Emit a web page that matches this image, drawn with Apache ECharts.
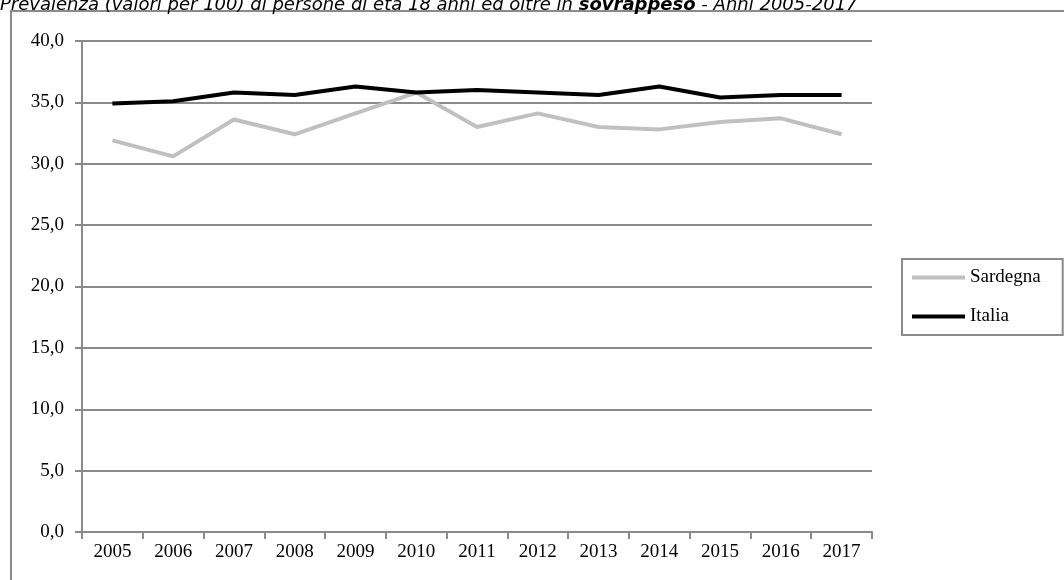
<!DOCTYPE html>
<html>
<head>
<meta charset="utf-8">
<script src="https://cdn.jsdelivr.net/npm/echarts@6/dist/echarts.min.js"></script>
<style>
html,body{margin:0;padding:0;background:#fff;}
#chart{width:1064px;height:580px;}
</style>
</head>
<body>
<div id="chart"></div>
<script>
var years = ['2005','2006','2007','2008','2009','2010','2011','2012','2013','2014','2015','2016','2017'];
var sardegna = [31.9, 30.6, 33.6, 32.4, 34.1, 35.8, 33.0, 34.1, 33.0, 32.8, 33.4, 33.7, 32.4];
var italia = [34.9, 35.1, 35.8, 35.6, 36.3, 35.8, 36.0, 35.8, 35.6, 36.3, 35.4, 35.6, 35.6];
var yTicks = [0, 5, 10, 15, 20, 25, 30, 35, 40];

var chart = echarts.init(document.getElementById('chart'));
var serif = '"Liberation Serif", "Times New Roman", serif';
var sans = '"DejaVu Sans", Verdana, sans-serif';
chart.setOption({
  animation: false,
  backgroundColor: '#fff',
  graphic: [
    {
      type: 'rect',
      shape: { x: 11, y: 11, width: 1200, height: 700 },
      style: { fill: 'none', stroke: '#8a8a8a', lineWidth: 2 },
      z: 0
    },
    {
      type: 'text',
      x: 0,
      y: 14,
      style: {
        text: '{n|Prevalenza (valori per 100) di persone di età 18 anni ed oltre in }{b|sovrappeso}{n| - Anni 2005-2017}',
        verticalAlign: 'bottom',
        rich: {
          n: { fontFamily: sans, fontStyle: 'italic', fontSize: 18, fill: '#000', lineHeight: 18 },
          b: { fontFamily: sans, fontStyle: 'italic', fontWeight: 'bold', fontSize: 18, fill: '#000', lineHeight: 18 }
        }
      },
      z: 10
    }
  ],
  grid: { left: 82, right: 192, top: 41, bottom: 48, containLabel: false },
  legend: {
    orient: 'vertical',
    left: 902,
    top: 259,
    padding: [9, 22, 9, 10],
    itemGap: 20,
    itemWidth: 53,
    itemHeight: 4,
    itemTextGap: 2,
    icon: 'rect',
    borderColor: '#8a8a8a',
    borderWidth: 2,
    textStyle: { fontFamily: serif, fontSize: 19, color: '#000' },
    data: ['Sardegna', 'Italia']
  },
  xAxis: {
    type: 'category',
    data: years,
    boundaryGap: true,
    axisLine: { show: true, lineStyle: { color: '#8a8a8a', width: 2 } },
    axisTick: { show: true, length: 7, lineStyle: { color: '#8a8a8a', width: 2 } },
    axisLabel: { fontFamily: serif, fontSize: 19, color: '#000', margin: 11 },
    splitLine: { show: false }
  },
  yAxis: {
    type: 'value',
    min: 0,
    max: 40,
    interval: 5,
    axisLine: { show: true, lineStyle: { color: '#8a8a8a', width: 2 } },
    axisTick: { show: true, length: 7, lineStyle: { color: '#8a8a8a', width: 2 } },
    axisLabel: {
      fontFamily: serif, fontSize: 19, color: '#000', margin: 18,
      formatter: function (v) { return yTicks.indexOf(v) >= 0 ? v.toFixed(1).replace('.', ',') : ''; }
    },
    splitLine: { show: true, lineStyle: { color: '#8a8a8a', width: 2 } }
  },
  series: [
    {
      name: 'Sardegna',
      type: 'line',
      data: sardegna,
      symbol: 'none',
      lineStyle: { color: '#c0c0c0', width: 4 },
      itemStyle: { color: '#c0c0c0' },
      z: 2
    },
    {
      name: 'Italia',
      type: 'line',
      data: italia,
      symbol: 'none',
      lineStyle: { color: '#000', width: 4 },
      itemStyle: { color: '#000' },
      z: 3
    }
  ]
});
</script>
</body>
</html>
